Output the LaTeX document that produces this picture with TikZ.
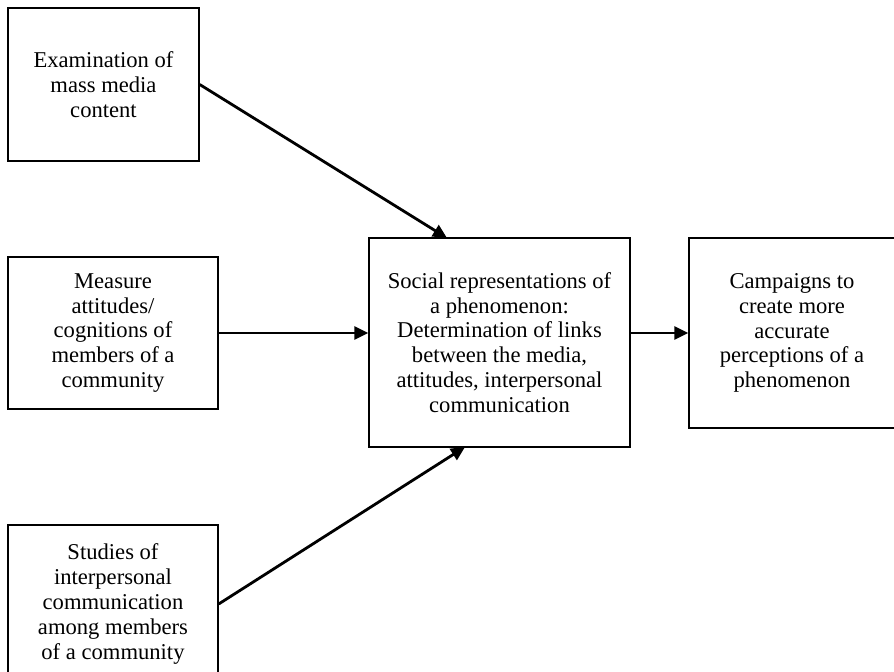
\documentclass[tikz,border=0pt]{standalone}
\usepackage{fontspec}
\setmainfont{Liberation Serif}
\usetikzlibrary{arrows.meta}
\begin{document}
\begin{tikzpicture}[x=0.5pt,y=-0.5pt,
  box/.style={draw, line width=0.7pt, align=center, inner sep=0pt,
    font=\fontsize{11.3}{12.4}\selectfont},
  arr/.style={line width=1.4pt, -{Triangle[length=7pt,width=6.5pt]}}]
\useasboundingbox (0,0) rectangle (894,672);
\clip (0,0) rectangle (894,672);
\node[box, minimum width=95.5pt, minimum height=76.5pt] (b1) at (103.5,84.5)
  {Examination of\\mass media\\content};
\node[box, minimum width=105pt, minimum height=76pt] (b2) at (113,333)
  {Measure\\attitudes/\\cognitions of\\members of a\\community};
\node[box, minimum width=105pt, minimum height=79pt] (b3) at (113,604)
  {Studies of\\interpersonal\\communication\\among members\\of a community};
\node[box, minimum width=130.5pt, minimum height=104.5pt] (c) at (499.5,342.5)
  {Social representations of\\a phenomenon:\\Determination of links\\between the media,\\attitudes, interpersonal\\communication};
\node[box, minimum width=103pt, minimum height=95pt] (r) at (792,333)
  {Campaigns to\\create more\\accurate\\perceptions of a\\phenomenon};
\coordinate (t1) at (447,238);
\coordinate (t3) at (465,447);
\draw[arr] (b1.east) -- (t1);
\draw[arr] (b2.east) -- (b2.east -| c.west);
\draw[arr] (b3.east) -- (t3);
\draw[arr] (r.west -| c.east) -- (r.west);
\end{tikzpicture}
\end{document}
